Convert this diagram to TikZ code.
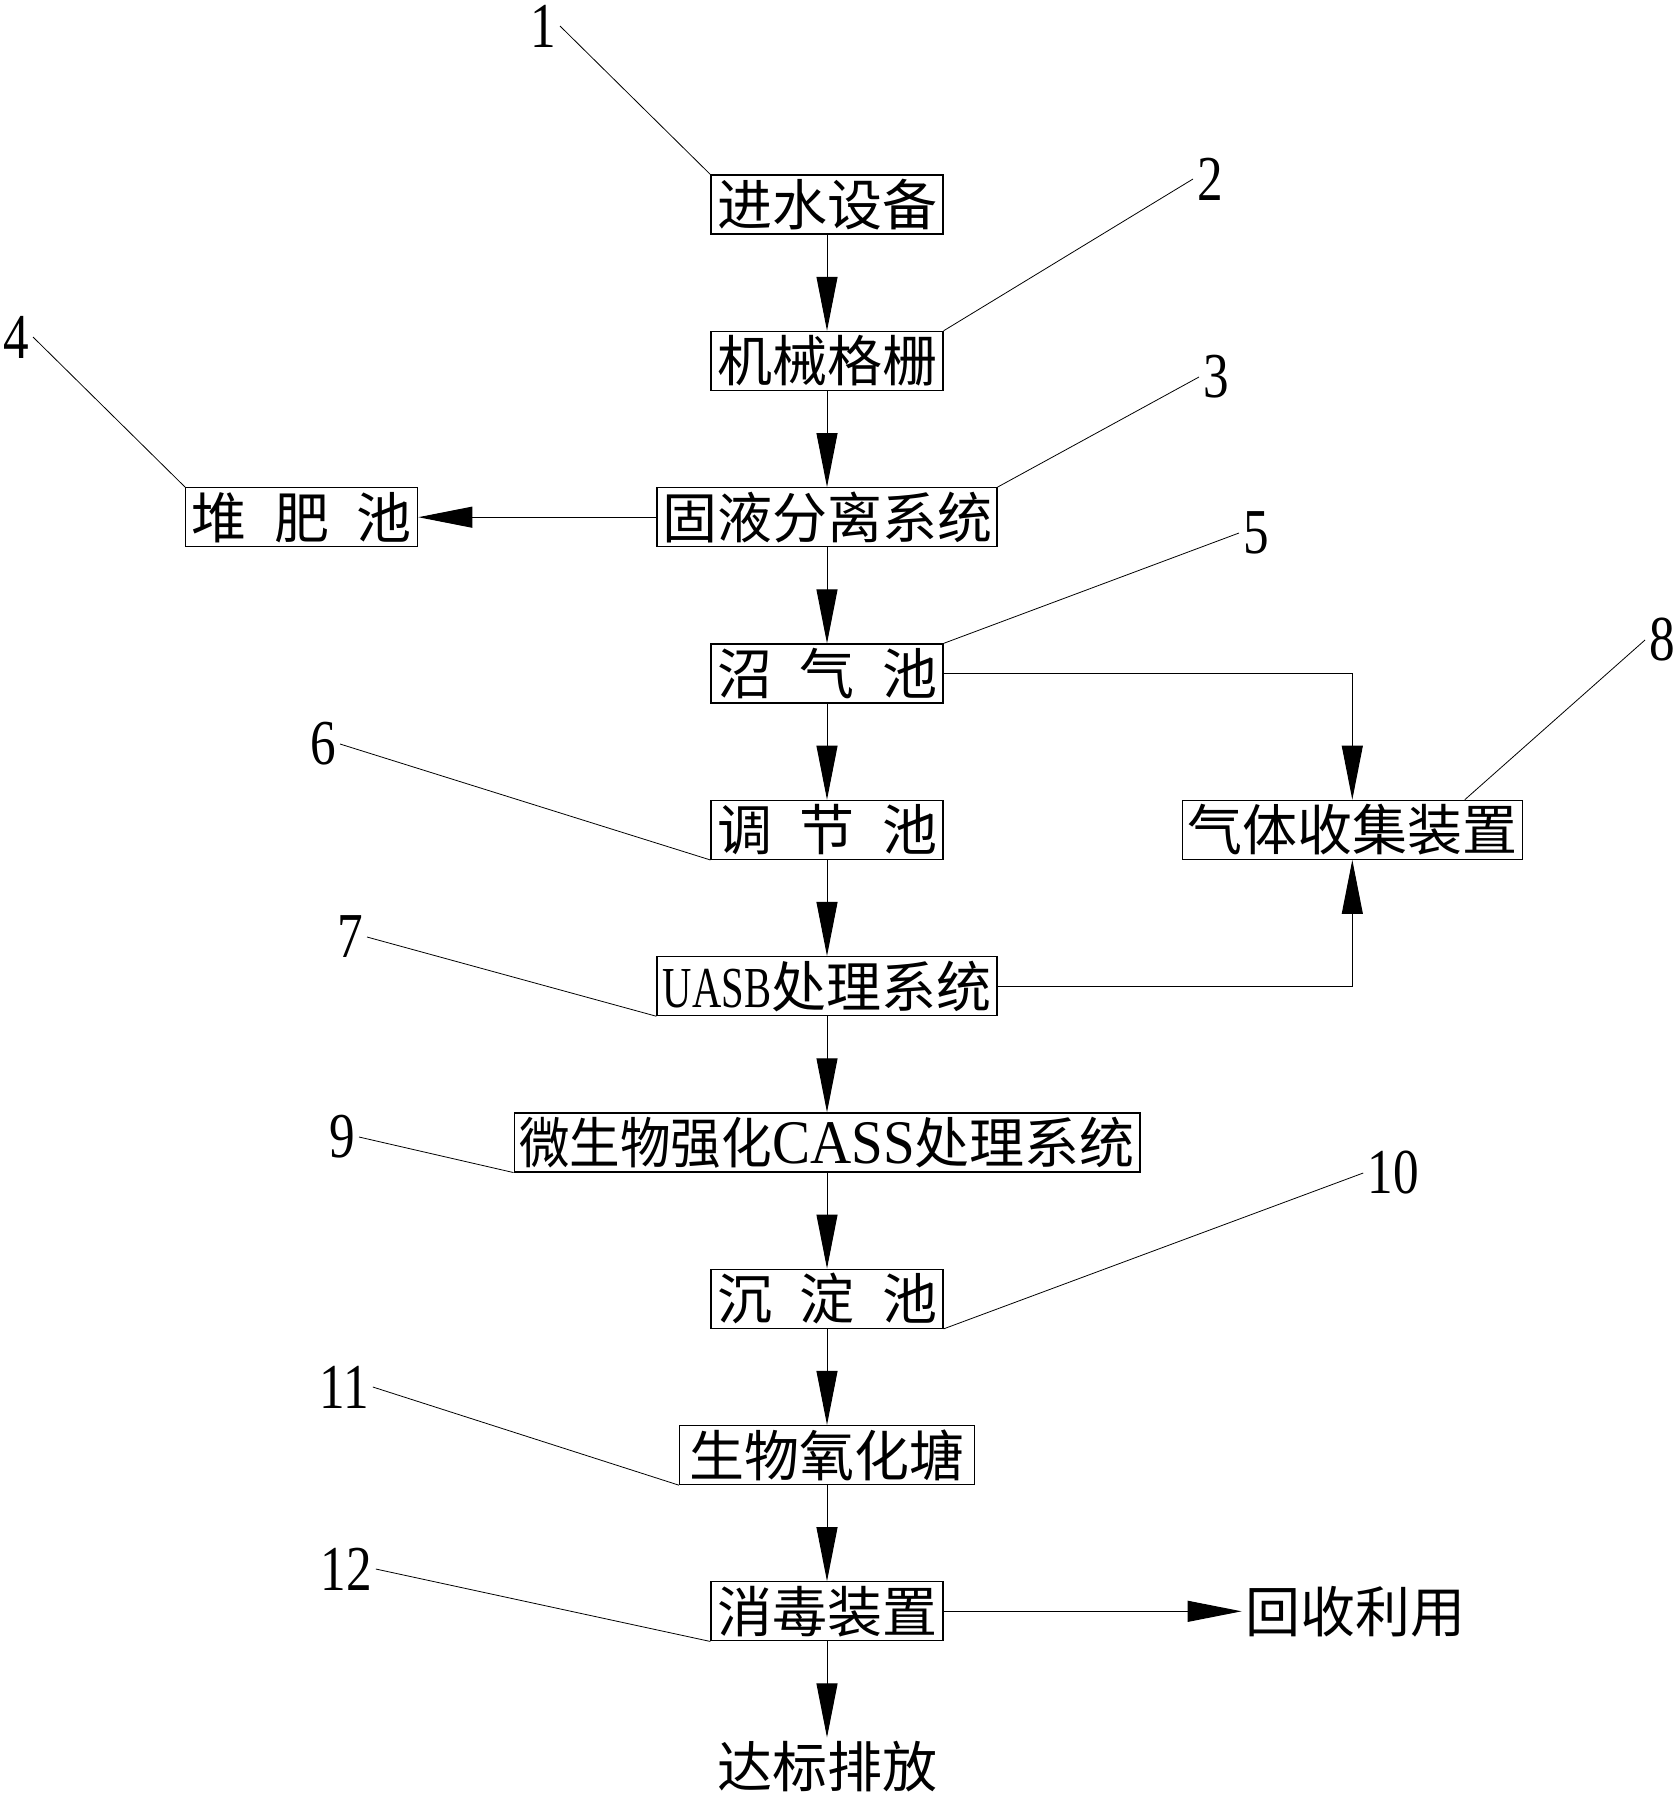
\documentclass[tikz,border=0pt]{standalone}
\usepackage{fontspec}
\usepackage{graphicx}
\newfontfamily\cjk{Noto Sans CJK SC}
\newfontfamily\numfont[FakeStretch=0.8]{Liberation Serif}
\newfontfamily\latfont{Liberation Serif}
\usetikzlibrary{positioning}
\usetikzlibrary{arrows.meta}

\begin{document}
\begin{tikzpicture} [x=1pt, y=-1pt, node distance=96pt,
	box/.style={draw, line width=1.3pt, minimum height=59pt, inner xsep=5pt, inner ysep=0pt, font=\cjk\fontsize{55}{55}\selectfont},
	word/.style={inner sep=4pt, font=\cjk\fontsize{55}{55}\selectfont},
	num/.style={inner sep=4pt, font=\numfont\fontsize{64}{64}\selectfont},
	flow/.style={-{Triangle[length=54pt,width=21pt]}, line width=1pt},
	lead/.style={line width=0.8pt}]

\useasboundingbox (0,0) rectangle (1678,1799);

% main line
\node [box, minimum width=232pt]	(b1) at (827,204.6)	{进水设备};
\node [box, minimum width=232pt]	(b2) [below=of b1]	{机械格栅};
\node [box, minimum width=340pt]	(b3) [below=of b2]	{固液分离系统};
\node [box, minimum width=232pt]	(b4) [left=238pt of b3]	{堆\hspace{0.5em}肥\hspace{0.5em}池};
\node [box, minimum width=232pt]	(b5) [below=of b3]	{沼\hspace{0.5em}气\hspace{0.5em}池};
\node [box, minimum width=232pt]	(b6) [below=of b5]	{调\hspace{0.5em}节\hspace{0.5em}池};
\node [box, minimum width=340pt]	(b8) [right=238pt of b6]	{气体收集装置};
\node [box, minimum width=340pt]	(b7) [below=of b6]	{\scalebox{0.7}[1]{\latfont\fontsize{58}{58}\selectfont UASB}处理系统};
\node [box, minimum width=625pt]	(b9) [below=of b7]	{\scalebox{0.92}[1]{微生物强化}\scalebox{0.92}[1]{\latfont\fontsize{62}{62}\selectfont CASS}处理系统};
\node [box, minimum width=232pt]	(b10) [below=of b9]	{沉\hspace{0.5em}淀\hspace{0.5em}池};
\node [box, minimum width=295pt]	(b11) [below=of b10]	{生物氧化塘};
\node [box, minimum width=232pt]	(b12) [below=of b11]	{消毒装置};
\node [word]	(reuse) [right=298pt of b12]	{回收利用};
\node [word]	(out) [below=96pt of b12]	{达标排放};

% numbers
\node [num] (l1) at (543,26)	{1};
\node [num] (l2) at (1210,179)	{2};
\node [num] (l3) at (1216,377)	{3};
\node [num] (l4) at (16,337)	{4};
\node [num] (l5) at (1256,533)	{5};
\node [num] (l6) at (323,744)	{6};
\node [num] (l7) at (350,937)	{7};
\node [num] (l8) at (1662,640)	{8};
\node [num] (l9) at (342,1137)	{9};
\node [num] (l10) at (1393,1173)	{10};
\node [num] (l11) at (344,1387)	{11};
\node [num] (l12) at (346,1569)	{12};

\path[flow]
	(b1) edge (b2)
	(b2) edge (b3)
	(b3) edge (b4)
	(b3) edge (b5)
	(b5) edge (b6)
	(b6) edge (b7)
	(b7) edge (b9)
	(b9) edge (b10)
	(b10) edge (b11)
	(b11) edge (b12)
	(b12) edge (reuse)
	(b12) edge (out);
\draw[flow] (b5.east) -| (b8.north);
\draw[flow] (b7.east) -| (b8.south);

\path[lead]
	(l1.east) edge (b1.north west)
	(l2.west) edge (b2.north east)
	(l3.west) edge (b3.north east)
	(l4.east) edge (b4.north west)
	(l5.west) edge (b5.north east)
	(l6.east) edge (b6.south west)
	(l7.east) edge (b7.south west)
	(l8.west) edge (b8.15)
	(l9.east) edge (b9.south west)
	(l10.west) edge (b10.south east)
	(l11.east) edge (b11.south west)
	(l12.east) edge (b12.south west);

\end{tikzpicture}
\end{document}
